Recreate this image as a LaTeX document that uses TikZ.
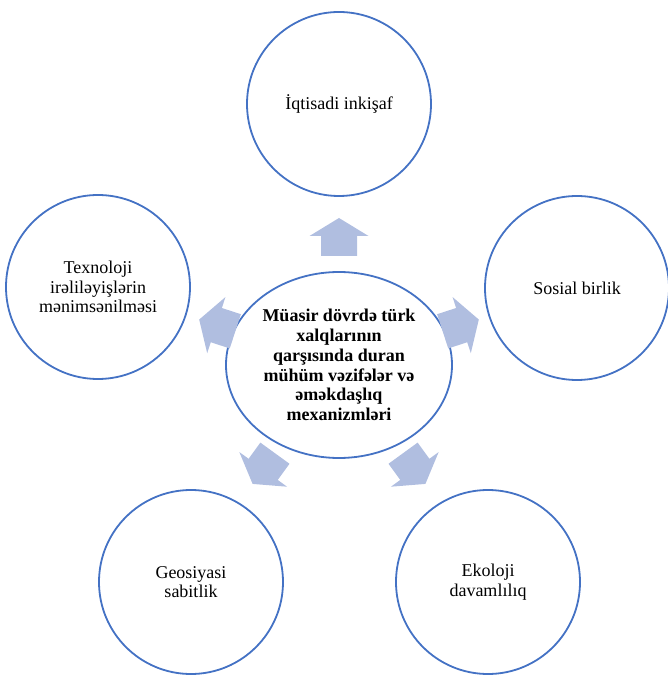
\documentclass[tikz,border=0pt]{standalone}
\usepackage{fontspec}
\setmainfont{Liberation Serif}
\usetikzlibrary{positioning,shapes.geometric}

\definecolor{ringblue}{RGB}{68,114,196}
\definecolor{arrowfill}{RGB}{176,190,224}

\begin{document}
\begin{tikzpicture}[x=1pt,y=1pt,
		topic/.style={draw=ringblue, line width=1.8pt, circle, minimum size=184pt, inner sep=0pt, align=center, font=\fontsize{18}{19.7}\selectfont},
		hub/.style={draw=ringblue, line width=1.8pt, ellipse, minimum width=226pt, minimum height=186pt, inner sep=0pt, align=center, font=\fontsize{18}{19.7}\selectfont\bfseries}]
		\useasboundingbox (-339,-311) rectangle (328,365);

		\node[hub] (hub) at (0,0) {Müasir dövrdə türk\\xalqlarının\\qarşısında duran\\mühüm vəzifələr və\\əməkdaşlıq\\mexanizmləri};

		\node[topic] (econ) at (0,261) {İqtisadi inkişaf};
		\node[topic] (social) at (238,77) {Sosial birlik};
		\node[topic] (tech) at (-241,78) {Texnoloji\\irəliləyişlərin\\mənimsənilməsi};
		\node[topic] (geo) at (-148,-217) {Geosiyasi\\sabitlik};
		\node[topic] (eco) at (149,-217) {Ekoloji\\davamlılıq};

		% block arrows from the hub
		\foreach \ang in {90,18,162,-54,-126}
			\fill[arrowfill, rotate=\ang] (109,-18) -- (129,-18) -- (129,-29.5) -- (147,0) -- (129,29.5) -- (129,18) -- (109,18) -- cycle;
	\end{tikzpicture}
\end{document}
